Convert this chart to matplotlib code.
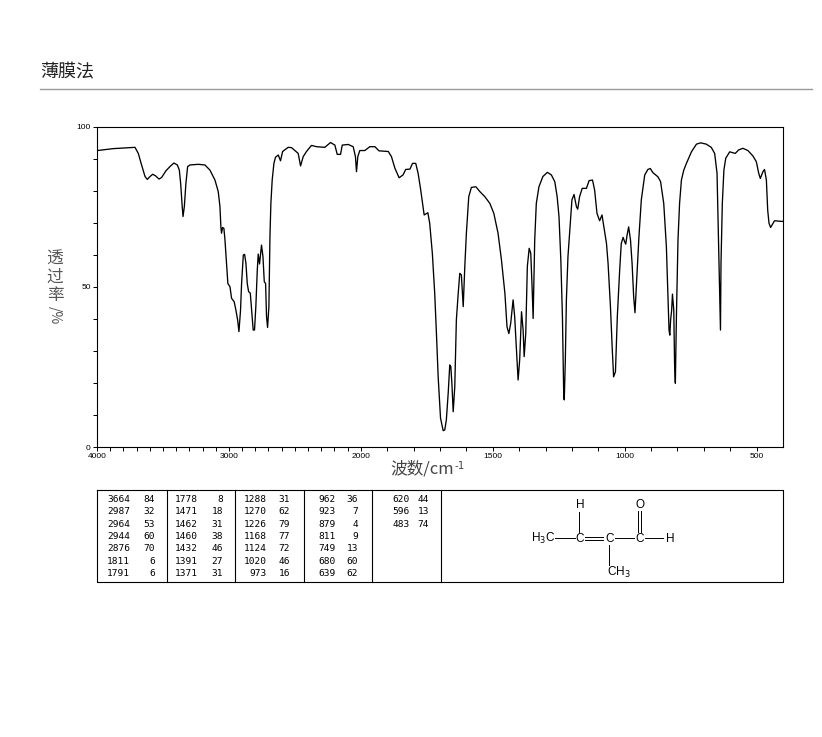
import numpy as np
from matplotlib import pyplot as plt

plt.rcParams['font.family'] = ['Noto Sans CJK SC', 'DejaVu Sans']

# spectrum
wavenumber = [4000, 3997, 3876, 3800, 3712, 3687, 3662, 3636, 3619, 3598, 3578, 3556, 3530, 3510, 3477, 3447, 3417,
              3391, 3376, 3366, 3354, 3348, 3338, 3326, 3313, 3295, 3232, 3182, 3144, 3106, 3081, 3068, 3061, 3056,
              3048, 3038, 3030, 3018, 3008, 2992, 2980, 2960, 2947, 2934, 2924, 2912, 2904, 2891, 2881, 2871, 2861,
              2851, 2838, 2826, 2816, 2806, 2796, 2785, 2778, 2768, 2760, 2753, 2742, 2732, 2722, 2715, 2707, 2697,
              2689, 2682, 2672, 2659, 2647, 2626, 2609, 2593, 2551, 2525, 2500, 2475, 2457, 2437, 2412, 2374, 2336,
              2273, 2230, 2197, 2179, 2154, 2141, 2096, 2058, 2041, 2033, 2023, 2008, 1985, 1966, 1947, 1931, 1896,
              1884, 1871, 1855, 1840, 1830, 1814, 1804, 1792, 1783, 1774, 1766, 1760, 1746, 1739, 1729, 1720, 1713,
              1707, 1698, 1688, 1682, 1676, 1669, 1663, 1659, 1655, 1650, 1644, 1638, 1631, 1625, 1619, 1612, 1606,
              1600, 1591, 1581, 1564, 1549, 1530, 1511, 1496, 1480, 1467, 1454, 1446, 1439, 1432, 1423, 1417, 1410,
              1404, 1398, 1391, 1385, 1381, 1375, 1369, 1362, 1356, 1351, 1347, 1341, 1335, 1325, 1310, 1293, 1278,
              1265, 1256, 1249, 1242, 1236, 1231, 1229, 1225, 1221, 1215, 1206, 1200, 1192, 1183, 1178, 1171, 1161,
              1145, 1135, 1122, 1114, 1105, 1095, 1086, 1078, 1069, 1063, 1054, 1047, 1042, 1035, 1028, 1019, 1013,
              1006, 1000, 996, 991, 985, 978, 972, 966, 961, 956, 946, 937, 924, 912, 903, 893, 874, 864, 852, 842,
              836, 832, 829, 826, 822, 819, 814, 811, 808, 804, 798, 792, 785, 776, 766, 747, 728, 712, 691, 672, 659,
              650, 643, 637, 635, 630, 624, 617, 602, 581, 568, 552, 533, 514, 501, 492, 486, 476, 470, 463, 458, 453,
              447, 438, 432, 407, 400]
transmittance = [92.5, 92.5, 93.1, 93.3, 93.5, 91.6, 88, 84.4, 83.5, 84.4, 85.1, 84.6, 83.6, 84.1, 86.2, 87.5, 88.6,
                 88, 86.4, 82.3, 75, 71.9, 75, 82.3, 87.5, 88, 88.2, 88, 86.4, 83.3, 79.7, 75, 68.7, 66.7,
                 68.5, 68.2, 64.6, 57.3, 51, 50, 46.4, 45.3, 42.7, 39.6, 36, 42.7, 51, 59.9, 60.1, 57.3, 51,
                 48.5, 48, 41.7, 36.5, 36.5, 43.8, 55.2, 60.2, 57.1, 60.4, 63, 59.4, 51.6, 51, 40.7, 37.3, 43.8,
                 65.6, 76, 83.3, 88.5, 90.4, 91.1, 89.3, 92.2, 93.5, 93.4, 92.5, 91.6, 87.7, 90.6, 92.2, 94.1, 93.7,
                 93.5, 95, 94.2, 91.3, 91.3, 94.2, 94.4, 93.7, 90.6, 85.9, 90.6, 92.5, 92.5, 93.7, 93.7, 92.4, 92.2,
                 90.6, 87, 84, 84.9, 86.6, 86.7, 88.5, 88.5, 85.4, 80.7, 76, 72.4, 73.1, 69.8, 60.4, 47.9, 34.4,
                 22, 9, 5.1, 5.3, 8.4, 16.7, 25.6, 25.1, 19.9, 11, 18.8, 39.6, 47.9, 54.2, 53.7, 43.8, 56.3,
                 66.7, 78.1, 81, 81.2, 79.7, 78.1, 76, 72.9, 66.7, 58.3, 47.9, 37.5, 35.4, 38.6, 45.9, 40.7, 30.3,
                 20.9, 27.2, 42.2, 36.5, 28.2, 35.4, 56.3, 62, 60.4, 50, 40.1, 64.6, 76, 81.2, 84.4, 85.7, 84.9,
                 82.8, 78.1, 71.9, 58.3, 40.7, 15.7, 14.7, 27.2, 45.9, 59.4, 69.8, 77.1, 78.8, 75, 74.2, 78.1, 80.7,
                 80.7, 83.1, 83.3, 80.2, 72.9, 70.6, 72.4, 68.2, 63.5, 57.3, 43.8, 30.3, 21.9, 23.5, 40.6, 55.2, 63.5,
                 65.4, 64, 63.3, 66.1, 68.7, 64.6, 57.3, 46.9, 41.9, 50, 65.6, 77.1, 84.9, 86.6, 86.9, 85.6, 84.3, 82.8,
                 76, 62.5, 46.9, 36.5, 34.9, 39.6, 42.7, 47.7, 42.7, 26.1, 19.9, 40.6, 64.6, 76, 83.3, 86.4, 88.5, 92.1,
                 94.5, 94.9, 94.5, 93.5, 91.6, 85.4, 59.4, 36.5, 57.3, 76, 86.4, 90.1, 92.1, 91.6, 92.7, 93.2, 92.5,
                 90.8, 89, 85.4, 83.8, 85.9, 86.6, 83.3, 73.9, 69.8, 68.5, 69.8, 70.6, 70.4, 70.4]

# peak table, one list per column
peak_cols = [
    [(3664, 84), (2987, 32), (2964, 53), (2944, 60), (2876, 70), (1811, 6), (1791, 6)],
    [(1778, 8), (1471, 18), (1462, 31), (1460, 38), (1432, 46), (1391, 27), (1371, 31)],
    [(1288, 31), (1270, 62), (1226, 79), (1168, 77), (1124, 72), (1020, 46), (973, 16)],
    [(962, 36), (923, 7), (879, 4), (811, 9), (749, 13), (680, 60), (639, 62)],
    [(620, 44), (596, 13), (483, 74)],
]
x_labels = [4000, 3000, 2000, 1500, 1000, 500]
y_labels = [0, 50, 100]


def forward(w):
    w = np.asarray(w, dtype=float)
    return np.where(w > 2000, 2000 + (w - 2000) / 2, w)


def inverse(p):
    p = np.asarray(p, dtype=float)
    return np.where(p > 2000, 2000 + (p - 2000) * 2, p)


W, H = 822, 737
fig = plt.figure(figsize=(W / 100, H / 100), dpi=100)
ax = fig.add_axes([97 / W, 1 - 447 / H, 686 / W, 320.5 / H])
ax.set_xscale('function', functions=(forward, inverse))
ax.plot(wavenumber, transmittance, color='black', lw=0.95)
ax.set_xlim(4000, 400)
ax.set_ylim(0, 100)

ax.set_xticks(x_labels)
ax.set_xticklabels([str(v) for v in x_labels], family='Liberation Sans', fontsize=6)
ax.set_xticks(np.arange(500, 4000, 100), minor=True)
ax.set_yticks(y_labels)
ax.set_yticklabels([str(v) for v in y_labels], family='Liberation Sans', fontsize=6)
ax.set_yticks(np.arange(0, 101, 10), minor=True)
ax.tick_params(which='both', length=3, width=0.7, pad=1.5)
for s in ax.spines.values():
    s.set_linewidth(0.8)

# everything outside the plot goes on an overlay in pixel coordinates
ov = fig.add_axes([0, 0, 1, 1], facecolor='none')
ov.set_xlim(0, W)
ov.set_ylim(H, 0)
ov.axis('off')

ov.text(40, 72, '薄膜法', fontsize=13, color='#222222', va='center', ha='left')
ov.plot([40, 812], [88.5, 88.5], color='#999999', lw=1)

ov.text(55, 259.5, '透', fontsize=12, color='#555555', ha='center', va='center')
ov.text(55, 277.5, '过', fontsize=12, color='#555555', ha='center', va='center')
ov.text(55, 295.5, '率', fontsize=12, color='#555555', ha='center', va='center')
ov.text(55, 315, '/%', fontsize=10, color='#555555', ha='center', va='center', rotation=-90)
ov.text(390, 469, '波数/cm', fontsize=12, color='#444444', ha='left', va='center')
ov.text(454, 466, '-1', fontsize=7.5, color='#444444', ha='left', va='center', family='DejaVu Sans')

# table frame
ov.plot([97, 783, 783, 97, 97], [490, 490, 582, 582, 490], color='black', lw=0.8)
for x in [166.5, 234.5, 303.5, 371.5, 440.5]:
    ov.plot([x, x], [490, 582], color='black', lw=0.8)

row_y = [499.5, 511.8, 524.1, 536.4, 548.7, 561, 573.3]
num_x = [130, 198, 267, 336, 410]
val_x = [155, 223, 290, 358, 429]
for c, col in enumerate(peak_cols):
    for r, (wn, tr) in enumerate(col):
        ov.text(num_x[c], row_y[r], str(wn), family='DejaVu Sans Mono', fontsize=6.8, ha='right', va='center')
        ov.text(val_x[c], row_y[r], str(tr), family='DejaVu Sans Mono', fontsize=6.8, ha='right', va='center')

# structure
atom = dict(family='Liberation Sans', fontsize=8.5, ha='center', va='center')
ov.text(543, 538.5, 'H$_3$C', math_fontfamily='dejavusans', **atom)
ov.text(580, 538.5, 'C', **atom)
ov.text(610, 538.5, 'C', **atom)
ov.text(640, 538.5, 'C', **atom)
ov.text(670, 538.5, 'H', **atom)
ov.text(580, 505, 'H', **atom)
ov.text(640, 505, 'O', **atom)
ov.text(619, 572, 'CH$_3$', math_fontfamily='dejavusans', **atom)
bonds = [([555, 575], [538, 538]), ([585, 603], [536.5, 536.5]), ([585, 603], [539.5, 539.5]),
         ([615, 634], [538, 538]), ([645, 663], [538, 538]), ([578.5, 578.5], [512, 532]),
         ([638, 638], [511, 532]), ([640.5, 640.5], [511, 532]), ([608.5, 608.5], [545, 565])]
for bx, by in bonds:
    ov.plot(bx, by, color='black', lw=0.7)

fig.savefig('out.png', dpi=100)
